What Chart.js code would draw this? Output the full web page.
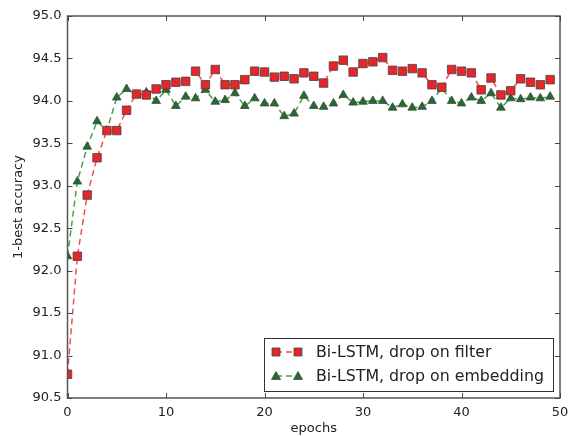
<!DOCTYPE html>
<html>
<head>
<meta charset="utf-8">
<script src="https://cdn.jsdelivr.net/npm/chart.js@4"></script>
<style>
  html, body { margin: 0; padding: 0; background: #fff; }
  #wrap { width: 571px; height: 436px; }
</style>
</head>
<body>
<div id="wrap"><canvas id="chart" width="571" height="436"></canvas></div>
<script>
  // ── Data ─────────────────────────────────────────────────────────
  const epochs = [];
  for (let i = 0; i < 50; i++) epochs.push(i);

  const dropFilter = [
    90.78, 92.17, 92.89, 93.33, 93.65, 93.65, 93.89, 94.08, 94.07, 94.14,
    94.19, 94.22, 94.23, 94.35, 94.19, 94.37, 94.19, 94.19, 94.25, 94.35,
    94.34, 94.28, 94.29, 94.26, 94.33, 94.29, 94.21, 94.41, 94.48, 94.34,
    94.44, 94.46, 94.51, 94.36, 94.35, 94.38, 94.33, 94.19, 94.16, 94.37,
    94.35, 94.33, 94.13, 94.27, 94.07, 94.12, 94.26, 94.22, 94.19, 94.25
  ];
  const dropEmbedding = [
    92.17, 93.05, 93.46, 93.76, 93.65, 94.04, 94.14, 94.07, 94.10, 94.00,
    94.13, 93.94, 94.05, 94.03, 94.13, 93.99, 94.01, 94.09, 93.94, 94.03,
    93.97, 93.97, 93.82, 93.85, 94.06, 93.94, 93.93, 93.97, 94.07, 93.98,
    93.99, 94.00, 94.00, 93.92, 93.96, 93.92, 93.93, 94.00, 94.15, 94.00,
    93.97, 94.04, 94.00, 94.09, 93.92, 94.03, 94.02, 94.04, 94.03, 94.05
  ];
  const seriesLabels = ["Bi-LSTM, drop on filter", "Bi-LSTM, drop on embedding"];
  const xTicks = [0, 10, 20, 30, 40, 50];
  const yTicks = [90.5, 91.0, 91.5, 92.0, 92.5, 93.0, 93.5, 94.0, 94.5, 95.0];

  const RED = "#e8262a";
  const RED_LINE = "#f05050";
  const GREEN = "#1e6e2e";
  const GREEN_LINE = "#4a9e4a";
  const EDGE = "#444";
  const FONT = "'DejaVu Sans', sans-serif";

  function points(values) {
    return values.map(function (v, i) { return { x: epochs[i], y: v }; });
  }

  // ── Frame, inward ticks and legend ───────────────────────────────
  const framePlugin = {
    id: "frame",
    afterDraw: function (chart) {
      const ctx = chart.ctx;
      const a = chart.chartArea;
      const xs = chart.scales.x;
      const ys = chart.scales.y;
      ctx.save();
      ctx.strokeStyle = "#555";
      ctx.lineWidth = 1.5;
      ctx.strokeRect(a.left, a.top, a.right - a.left, a.bottom - a.top);
      ctx.lineWidth = 1;
      ctx.strokeStyle = "#444";
      ctx.beginPath();
      xTicks.forEach(function (t) {
        const px = Math.round(xs.getPixelForValue(t)) + 0.5;
        ctx.moveTo(px, a.bottom); ctx.lineTo(px, a.bottom - 5);
        ctx.moveTo(px, a.top); ctx.lineTo(px, a.top + 5);
      });
      yTicks.forEach(function (t) {
        const py = Math.round(ys.getPixelForValue(t)) + 0.5;
        ctx.moveTo(a.left, py); ctx.lineTo(a.left + 5, py);
        ctx.moveTo(a.right, py); ctx.lineTo(a.right - 5, py);
      });
      ctx.stroke();

      // legend box
      const bx = 264, by = 338, bw = 289, bh = 53;
      ctx.fillStyle = "#fff";
      ctx.fillRect(bx, by, bw, bh);
      ctx.strokeStyle = "#333";
      ctx.lineWidth = 1;
      ctx.strokeRect(bx + 0.5, by + 0.5, bw, bh);

      const rows = [
        { y: 352, color: RED, line: RED_LINE, style: "rect" },
        { y: 376, color: GREEN, line: GREEN_LINE, style: "triangle" }
      ];
      rows.forEach(function (r, i) {
        ctx.strokeStyle = r.line;
        ctx.lineWidth = 1.5;
        ctx.setLineDash([6, 4]);
        ctx.beginPath();
        ctx.moveTo(276, r.y); ctx.lineTo(298, r.y);
        ctx.stroke();
        ctx.setLineDash([]);
        [276, 298].forEach(function (mx) {
          ctx.fillStyle = r.color;
          ctx.strokeStyle = EDGE;
          ctx.lineWidth = 0.8;
          ctx.beginPath();
          if (r.style === "rect") {
            ctx.rect(mx - 4, r.y - 4, 8, 8);
          } else {
            ctx.moveTo(mx, r.y - 4.5);
            ctx.lineTo(mx + 4.5, r.y + 3.5);
            ctx.lineTo(mx - 4.5, r.y + 3.5);
            ctx.closePath();
          }
          ctx.fill();
          ctx.stroke();
        });
        ctx.fillStyle = "#222";
        ctx.font = "15.8px " + FONT;
        ctx.textBaseline = "middle";
        ctx.textAlign = "left";
        ctx.fillText(seriesLabels[i], 316, r.y + 1);
      });
      ctx.restore();
    }
  };

  // ── Chart ────────────────────────────────────────────────────────
  new Chart(document.getElementById("chart"), {
    type: "line",
    data: {
      datasets: [
        {
          label: seriesLabels[0],
          data: points(dropFilter),
          borderColor: RED_LINE,
          borderWidth: 1.5,
          borderDash: [6, 4],
          tension: 0,
          pointStyle: "rect",
          pointRadius: 6,
          pointBackgroundColor: RED,
          pointBorderColor: EDGE,
          pointBorderWidth: 0.8,
          clip: 0,
          fill: false
        },
        {
          label: seriesLabels[1],
          data: points(dropEmbedding),
          borderColor: GREEN_LINE,
          borderWidth: 1.5,
          borderDash: [6, 4],
          tension: 0,
          pointStyle: "triangle",
          pointRadius: 5,
          pointBackgroundColor: GREEN,
          pointBorderColor: EDGE,
          pointBorderWidth: 0.8,
          clip: 0,
          fill: false
        }
      ]
    },
    options: {
      responsive: false,
      animation: false,
      events: [],
      layout: { padding: { top: 16, right: 11, left: 0, bottom: 0 } },
      plugins: {
        legend: { display: false },
        tooltip: { enabled: false }
      },
      scales: {
        x: {
          type: "linear",
          min: 0,
          max: 50,
          afterBuildTicks: function (s) { s.ticks = xTicks.map(function (v) { return { value: v }; }); },
          afterFit: function (s) { s.height = 38; s.paddingLeft = 0; s.paddingRight = 0; },
          grid: { display: false, drawTicks: false },
          border: { display: false },
          ticks: { color: "#222", font: { family: FONT, size: 13 }, padding: 7, maxRotation: 0 },
          title: { display: true, text: "epochs", color: "#222", font: { family: FONT, size: 13 }, padding: { top: 0, bottom: 0 } }
        },
        y: {
          min: 90.5,
          max: 95,
          afterBuildTicks: function (s) { s.ticks = yTicks.map(function (v) { return { value: v }; }); },
          afterFit: function (s) { s.width = 67.5; s.paddingTop = 0; s.paddingBottom = 0; },
          grid: { display: false, drawTicks: false },
          border: { display: false },
          ticks: {
            color: "#222",
            font: { family: FONT, size: 13 },
            padding: 6,
            callback: function (v) { return Number(v).toFixed(1); }
          },
          title: { display: true, text: "1-best accuracy", color: "#222", font: { family: FONT, size: 13 }, padding: { top: 11, bottom: 0 } }
        }
      }
    },
    plugins: [framePlugin]
  });
</script>
</body>
</html>
